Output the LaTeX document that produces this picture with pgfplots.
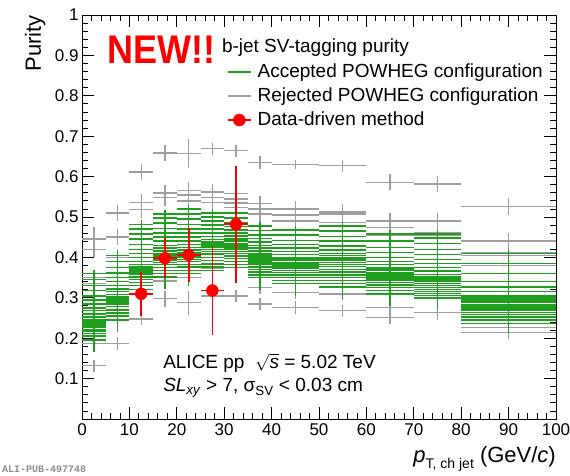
\documentclass[border=0pt]{standalone}
\usepackage{fontspec}
\setmainfont{Liberation Sans}
\newfontfamily\monofont{Liberation Mono}
\usepackage{amsmath}
\usepackage{pgfplots}
\usepackage{pgfplotstable}
\pgfplotsset{compat=1.18}
\definecolor{mygreen}{RGB}{30,160,30}
\definecolor{mygray}{RGB}{158,158,158}
\definecolor{mred}{RGB}{250,0,0}

% Accepted POWHEG configurations: x  ex  y  ey
\pgfplotstableread[row sep=\\]{
x ex y ey\\
2.5 2.5 0.195 0.03\\ 2.5 2.5 0.205 0.03\\ 2.5 2.5 0.212 0.03\\ 2.5 2.5 0.218 0.03\\ 2.5 2.5 0.222 0.03\\ 2.5 2.5 0.226 0.03\\ 2.5 2.5 0.230 0.03\\
2.5 2.5 0.233 0.03\\ 2.5 2.5 0.236 0.03\\ 2.5 2.5 0.240 0.03\\ 2.5 2.5 0.245 0.03\\ 2.5 2.5 0.252 0.03\\ 2.5 2.5 0.260 0.03\\ 2.5 2.5 0.268 0.03\\
2.5 2.5 0.275 0.03\\ 2.5 2.5 0.285 0.03\\ 2.5 2.5 0.295 0.03\\ 2.5 2.5 0.305 0.03\\ 2.5 2.5 0.318 0.03\\ 2.5 2.5 0.330 0.03\\ 2.5 2.5 0.345 0.025\\ 2.5 2.5 0.360 0.01\\
7.5 2.5 0.245 0.03\\ 7.5 2.5 0.255 0.03\\ 7.5 2.5 0.262 0.03\\ 7.5 2.5 0.270 0.03\\ 7.5 2.5 0.278 0.03\\ 7.5 2.5 0.285 0.03\\ 7.5 2.5 0.290 0.03\\
7.5 2.5 0.293 0.03\\ 7.5 2.5 0.296 0.03\\ 7.5 2.5 0.299 0.03\\ 7.5 2.5 0.302 0.03\\ 7.5 2.5 0.308 0.03\\ 7.5 2.5 0.315 0.03\\ 7.5 2.5 0.322 0.03\\
7.5 2.5 0.330 0.03\\ 7.5 2.5 0.340 0.03\\ 7.5 2.5 0.350 0.03\\ 7.5 2.5 0.362 0.03\\ 7.5 2.5 0.375 0.03\\ 7.5 2.5 0.390 0.02\\ 7.5 2.5 0.405 0.01\\
12.5 2.5 0.320 0.03\\ 12.5 2.5 0.330 0.03\\ 12.5 2.5 0.338 0.03\\ 12.5 2.5 0.345 0.03\\ 12.5 2.5 0.352 0.03\\ 12.5 2.5 0.358 0.03\\ 12.5 2.5 0.362 0.03\\
12.5 2.5 0.366 0.03\\ 12.5 2.5 0.370 0.03\\ 12.5 2.5 0.374 0.03\\ 12.5 2.5 0.378 0.03\\ 12.5 2.5 0.383 0.03\\ 12.5 2.5 0.390 0.03\\ 12.5 2.5 0.400 0.03\\
12.5 2.5 0.410 0.03\\ 12.5 2.5 0.420 0.03\\ 12.5 2.5 0.432 0.03\\ 12.5 2.5 0.445 0.03\\ 12.5 2.5 0.458 0.03\\ 12.5 2.5 0.470 0.02\\ 12.5 2.5 0.482 0.01\\
17.5 2.5 0.352 0.03\\ 17.5 2.5 0.360 0.03\\ 17.5 2.5 0.368 0.03\\ 17.5 2.5 0.375 0.03\\ 17.5 2.5 0.382 0.03\\ 17.5 2.5 0.388 0.03\\ 17.5 2.5 0.393 0.03\\
17.5 2.5 0.398 0.03\\ 17.5 2.5 0.402 0.03\\ 17.5 2.5 0.406 0.03\\ 17.5 2.5 0.410 0.03\\ 17.5 2.5 0.416 0.03\\ 17.5 2.5 0.423 0.03\\ 17.5 2.5 0.430 0.03\\
17.5 2.5 0.440 0.03\\ 17.5 2.5 0.450 0.03\\ 17.5 2.5 0.460 0.03\\ 17.5 2.5 0.472 0.03\\ 17.5 2.5 0.485 0.03\\ 17.5 2.5 0.497 0.02\\ 17.5 2.5 0.508 0.01\\
22.5 2.5 0.360 0.03\\ 22.5 2.5 0.368 0.03\\ 22.5 2.5 0.376 0.03\\ 22.5 2.5 0.383 0.03\\ 22.5 2.5 0.390 0.03\\ 22.5 2.5 0.395 0.03\\ 22.5 2.5 0.400 0.03\\
22.5 2.5 0.404 0.03\\ 22.5 2.5 0.408 0.03\\ 22.5 2.5 0.412 0.03\\ 22.5 2.5 0.418 0.03\\ 22.5 2.5 0.425 0.03\\ 22.5 2.5 0.432 0.03\\ 22.5 2.5 0.440 0.03\\
22.5 2.5 0.450 0.03\\ 22.5 2.5 0.460 0.03\\ 22.5 2.5 0.470 0.03\\ 22.5 2.5 0.482 0.03\\ 22.5 2.5 0.495 0.03\\ 22.5 2.5 0.507 0.02\\ 22.5 2.5 0.520 0.01\\
27.5 2.5 0.368 0.03\\ 27.5 2.5 0.376 0.03\\ 27.5 2.5 0.384 0.03\\ 27.5 2.5 0.392 0.03\\ 27.5 2.5 0.400 0.03\\ 27.5 2.5 0.408 0.03\\ 27.5 2.5 0.415 0.03\\
27.5 2.5 0.420 0.03\\ 27.5 2.5 0.425 0.03\\ 27.5 2.5 0.428 0.03\\ 27.5 2.5 0.431 0.03\\ 27.5 2.5 0.434 0.03\\ 27.5 2.5 0.438 0.03\\ 27.5 2.5 0.444 0.03\\
27.5 2.5 0.452 0.03\\ 27.5 2.5 0.460 0.03\\ 27.5 2.5 0.470 0.03\\ 27.5 2.5 0.480 0.03\\ 27.5 2.5 0.490 0.03\\ 27.5 2.5 0.500 0.02\\ 27.5 2.5 0.510 0.01\\
32.5 2.5 0.375 0.03\\ 32.5 2.5 0.383 0.03\\ 32.5 2.5 0.390 0.03\\ 32.5 2.5 0.397 0.03\\ 32.5 2.5 0.404 0.03\\ 32.5 2.5 0.410 0.03\\ 32.5 2.5 0.415 0.03\\
32.5 2.5 0.419 0.03\\ 32.5 2.5 0.423 0.03\\ 32.5 2.5 0.427 0.03\\ 32.5 2.5 0.431 0.03\\ 32.5 2.5 0.435 0.03\\ 32.5 2.5 0.440 0.03\\ 32.5 2.5 0.446 0.03\\
32.5 2.5 0.453 0.03\\ 32.5 2.5 0.460 0.03\\ 32.5 2.5 0.468 0.03\\ 32.5 2.5 0.477 0.03\\ 32.5 2.5 0.487 0.03\\ 32.5 2.5 0.498 0.02\\ 32.5 2.5 0.510 0.01\\
37.5 2.5 0.350 0.03\\ 37.5 2.5 0.357 0.03\\ 37.5 2.5 0.364 0.03\\ 37.5 2.5 0.370 0.03\\ 37.5 2.5 0.376 0.03\\ 37.5 2.5 0.382 0.03\\ 37.5 2.5 0.386 0.03\\
37.5 2.5 0.390 0.03\\ 37.5 2.5 0.394 0.03\\ 37.5 2.5 0.398 0.03\\ 37.5 2.5 0.402 0.03\\ 37.5 2.5 0.406 0.03\\ 37.5 2.5 0.410 0.03\\ 37.5 2.5 0.416 0.03\\
37.5 2.5 0.423 0.03\\ 37.5 2.5 0.430 0.03\\ 37.5 2.5 0.438 0.03\\ 37.5 2.5 0.447 0.03\\ 37.5 2.5 0.456 0.03\\ 37.5 2.5 0.467 0.02\\ 37.5 2.5 0.478 0.01\\
45 5 0.335 0.03\\ 45 5 0.343 0.03\\ 45 5 0.350 0.03\\ 45 5 0.357 0.03\\ 45 5 0.363 0.03\\ 45 5 0.368 0.03\\ 45 5 0.372 0.03\\
45 5 0.376 0.03\\ 45 5 0.380 0.03\\ 45 5 0.384 0.03\\ 45 5 0.388 0.03\\ 45 5 0.392 0.03\\ 45 5 0.396 0.03\\ 45 5 0.400 0.03\\
45 5 0.407 0.03\\ 45 5 0.415 0.03\\ 45 5 0.423 0.03\\ 45 5 0.432 0.03\\ 45 5 0.442 0.03\\ 45 5 0.455 0.02\\ 45 5 0.468 0.01\\
55 5 0.327 0.03\\ 55 5 0.335 0.03\\ 55 5 0.343 0.03\\ 55 5 0.350 0.03\\ 55 5 0.357 0.03\\ 55 5 0.364 0.03\\ 55 5 0.370 0.03\\
55 5 0.377 0.03\\ 55 5 0.383 0.03\\ 55 5 0.388 0.03\\ 55 5 0.392 0.03\\ 55 5 0.396 0.03\\ 55 5 0.400 0.03\\ 55 5 0.405 0.03\\
55 5 0.410 0.03\\ 55 5 0.418 0.03\\ 55 5 0.428 0.03\\ 55 5 0.440 0.03\\ 55 5 0.452 0.03\\ 55 5 0.465 0.02\\ 55 5 0.478 0.01\\
65 5 0.310 0.03\\ 65 5 0.318 0.03\\ 65 5 0.325 0.03\\ 65 5 0.332 0.03\\ 65 5 0.338 0.03\\ 65 5 0.343 0.03\\ 65 5 0.347 0.03\\
65 5 0.351 0.03\\ 65 5 0.355 0.03\\ 65 5 0.359 0.03\\ 65 5 0.363 0.03\\ 65 5 0.367 0.03\\ 65 5 0.371 0.03\\ 65 5 0.375 0.03\\
65 5 0.382 0.03\\ 65 5 0.390 0.03\\ 65 5 0.400 0.03\\ 65 5 0.412 0.03\\ 65 5 0.425 0.03\\ 65 5 0.440 0.02\\ 65 5 0.458 0.01\\
75 5 0.300 0.03\\ 75 5 0.306 0.03\\ 75 5 0.311 0.03\\ 75 5 0.316 0.03\\ 75 5 0.321 0.03\\ 75 5 0.326 0.03\\ 75 5 0.331 0.03\\
75 5 0.336 0.03\\ 75 5 0.341 0.03\\ 75 5 0.346 0.03\\ 75 5 0.351 0.03\\ 75 5 0.358 0.03\\ 75 5 0.366 0.03\\ 75 5 0.375 0.03\\
75 5 0.385 0.03\\ 75 5 0.395 0.03\\ 75 5 0.407 0.03\\ 75 5 0.420 0.03\\ 75 5 0.435 0.03\\ 75 5 0.448 0.02\\ 75 5 0.458 0.01\\
90 10 0.237 0.025\\ 90 10 0.245 0.025\\ 90 10 0.252 0.025\\ 90 10 0.259 0.025\\ 90 10 0.264 0.025\\ 90 10 0.268 0.025\\ 90 10 0.272 0.025\\
90 10 0.276 0.025\\ 90 10 0.280 0.025\\ 90 10 0.284 0.025\\ 90 10 0.288 0.025\\ 90 10 0.292 0.025\\ 90 10 0.296 0.025\\ 90 10 0.300 0.025\\
90 10 0.305 0.025\\ 90 10 0.315 0.025\\ 90 10 0.327 0.025\\ 90 10 0.340 0.025\\ 90 10 0.360 0.025\\ 90 10 0.385 0.02\\ 90 10 0.410 0.01\\
}\greentab

% Rejected POWHEG configurations
\pgfplotstableread[row sep=\\]{
x ex y ey\\
2.5 2.5 0.445 0.030\\ 2.5 2.5 0.420 0.020\\ 2.5 2.5 0.350 0.020\\ 2.5 2.5 0.335 0.020\\ 2.5 2.5 0.187 0.015\\ 2.5 2.5 0.132 0.015\\
7.5 2.5 0.510 0.020\\ 7.5 2.5 0.450 0.020\\ 7.5 2.5 0.400 0.020\\ 7.5 2.5 0.187 0.015\\
12.5 2.5 0.612 0.020\\ 12.5 2.5 0.536 0.020\\ 12.5 2.5 0.518 0.020\\ 12.5 2.5 0.248 0.015\\
17.5 2.5 0.658 0.020\\ 17.5 2.5 0.560 0.020\\ 17.5 2.5 0.548 0.020\\ 17.5 2.5 0.342 0.020\\ 17.5 2.5 0.298 0.020\\
22.5 2.5 0.657 0.035\\ 22.5 2.5 0.566 0.020\\ 22.5 2.5 0.555 0.020\\ 22.5 2.5 0.540 0.020\\ 22.5 2.5 0.350 0.020\\ 22.5 2.5 0.288 0.030\\
27.5 2.5 0.669 0.015\\ 27.5 2.5 0.562 0.020\\ 27.5 2.5 0.548 0.020\\ 27.5 2.5 0.536 0.020\\ 27.5 2.5 0.372 0.020\\ 27.5 2.5 0.305 0.020\\
32.5 2.5 0.664 0.015\\ 32.5 2.5 0.558 0.020\\ 32.5 2.5 0.545 0.020\\ 32.5 2.5 0.535 0.020\\ 32.5 2.5 0.524 0.020\\ 32.5 2.5 0.305 0.015\\
37.5 2.5 0.635 0.015\\ 37.5 2.5 0.533 0.020\\ 37.5 2.5 0.520 0.020\\ 37.5 2.5 0.508 0.020\\ 37.5 2.5 0.325 0.015\\ 37.5 2.5 0.285 0.015\\
45 5 0.630 0.010\\ 45 5 0.520 0.020\\ 45 5 0.505 0.020\\ 45 5 0.490 0.020\\ 45 5 0.313 0.015\\ 45 5 0.276 0.015\\
55 5 0.627 0.015\\ 55 5 0.512 0.020\\ 55 5 0.508 0.020\\ 55 5 0.486 0.020\\ 55 5 0.343 0.020\\ 55 5 0.310 0.015\\ 55 5 0.268 0.015\\
65 5 0.586 0.020\\ 65 5 0.490 0.020\\ 65 5 0.474 0.020\\ 65 5 0.458 0.020\\ 65 5 0.455 0.020\\ 65 5 0.276 0.015\\ 65 5 0.251 0.015\\
75 5 0.582 0.020\\ 75 5 0.490 0.020\\ 75 5 0.460 0.020\\ 75 5 0.454 0.020\\ 75 5 0.264 0.020\\
90 10 0.526 0.020\\ 90 10 0.441 0.020\\ 90 10 0.412 0.020\\ 90 10 0.405 0.020\\ 90 10 0.380 0.020\\ 90 10 0.226 0.015\\ 90 10 0.214 0.015\\
}\graytab

% Data-driven method
\pgfplotstableread[row sep=\\]{
x ex y ey\\
12.5 2.5 0.310 0.055\\
17.5 2.5 0.398 0.050\\
22.5 2.5 0.406 0.066\\
27.5 2.5 0.318 0.110\\
32.5 2.5 0.482 0.145\\
}\datatab

\begin{document}
\begin{tikzpicture}
\path[use as bounding box] (-82pt,-56pt) rectangle (488pt,419pt);
\begin{axis}[
  at={(0pt,0pt)}, anchor=south west,
  scale only axis, width=474pt, height=404pt,
  xmin=0, xmax=100, ymin=0, ymax=1,
  clip=false,
  xtick={0,10,...,100},
  ytick={0,0.1,0.2,0.3,0.4,0.5,0.6,0.7,0.8,0.9,1},
  yticklabels={,0.1,0.2,0.3,0.4,0.5,0.6,0.7,0.8,0.9,1},
  minor x tick num=4, minor y tick num=4,
  tick align=inside,
  major tick length=12pt, minor tick length=6pt,
  tick style={black, line width=0.8pt},
  axis line style={line width=0.9pt},
  /pgf/number format/assume math mode=true,
  ticklabel style={font=\fontsize{17}{20}\selectfont},
  xticklabel style={yshift=-1pt},
  legend style={draw=none, fill=none, at={(rel axis cs:0.306,0.881)}, anchor=north west,
    inner sep=0pt, outer sep=0pt, row sep=6pt, column sep=6pt,
    font=\fontsize{19}{22}\selectfont,
    nodes={inner sep=0pt, text height=14pt, text depth=4pt}},
  legend cell align=left,
  error bars/error mark=none,
]
\addlegendimage{legend image code/.code={\draw[mygreen, line width=1.6pt] (0pt,0pt) -- (23pt,0pt);}}
\addlegendentry{Accepted POWHEG configuration}
\addlegendimage{legend image code/.code={\draw[mygray, line width=1.6pt] (0pt,0pt) -- (23pt,0pt);}}
\addlegendentry{Rejected POWHEG configuration}
\addlegendimage{legend image code/.code={\draw[mred, line width=1.6pt] (0pt,0pt) -- (23pt,0pt); \fill[mred] (11.5pt,0pt) circle (6pt);}}
\addlegendentry{Data-driven method}

\addplot[forget plot, draw=none, mark=none,
  error bars/.cd, x dir=both, x explicit, y dir=both, y explicit,
  error bar style={mygray, line width=1.5pt}]
  table[x=x, y=y, x error=ex, y error=ey]{\graytab};
\addplot[forget plot, draw=none, mark=none,
  error bars/.cd, x dir=both, x explicit, y dir=both, y explicit,
  error bar style={mygreen, line width=1.5pt}]
  table[x=x, y=y, x error=ex, y error=ey]{\greentab};
\addplot[forget plot, only marks, mark=*, mark size=6pt, mred, mark options={fill=mred, draw=mred},
  error bars/.cd, x dir=both, x explicit, y dir=both, y explicit,
  error bar style={mred, line width=1.7pt}]
  table[x=x, y=y, x error=ex, y error=ey]{\datatab};

\node[anchor=base west, font=\fontsize{40}{44}\selectfont\bfseries, text=mred, xscale=0.9, inner sep=0pt]
  at (axis cs:5.3,0.881) {NEW!!};
\node[anchor=base west, font=\fontsize{19}{22}\selectfont, inner sep=0pt]
  at (axis cs:29.5,0.906) {b-jet SV-tagging purity};
\node[anchor=base west, font=\fontsize{19}{22}\selectfont, inner sep=0pt]
  at (axis cs:17.1,0.126) {ALICE pp \ $\sqrt{\text{\itshape s}}$ = 5.02 TeV};
\node[anchor=base west, font=\fontsize{19}{22}\selectfont, inner sep=0pt]
  at (axis cs:17.1,0.067) {\textit{SL}\textsubscript{\textit{xy}} > 7, σ\textsubscript{SV} < 0.03 cm};
\node[anchor=base east, font=\fontsize{22}{24}\selectfont, inner sep=0pt]
  at (rel axis cs:1,0) [yshift=-43pt] {\textit{p}\raisebox{-6pt}{\fontsize{14}{14}\selectfont T, ch jet} (GeV/\textit{c})};
\node[anchor=east, rotate=90, font=\fontsize{22}{24}\selectfont, inner sep=0pt]
  at (axis cs:-9.9,1) {Purity};
\node[anchor=base west, font=\fontsize{10}{12}\selectfont\monofont\bfseries, text=black!45, inner sep=0pt]
  at (rel axis cs:0,0) [xshift=-80pt, yshift=-53pt] {ALI-PUB-497748};
\end{axis}
\end{tikzpicture}
\end{document}
